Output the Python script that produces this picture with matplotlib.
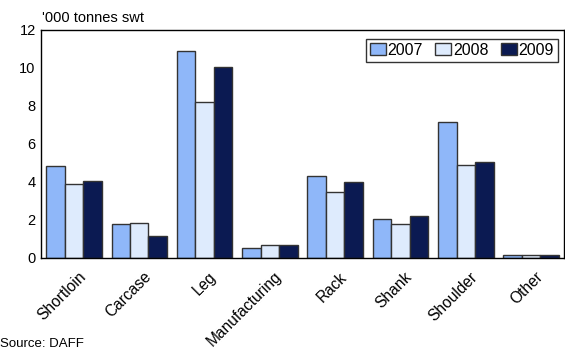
import numpy as np
import matplotlib.pyplot as plt
import matplotlib.transforms as mtransforms

plt.rcParams['font.family'] = ['Liberation Sans', 'DejaVu Sans']

cuts = ['Shortloin', 'Carcase', 'Leg', 'Manufacturing', 'Rack', 'Shank', 'Shoulder', 'Other']
y2007 = [4.85, 1.8, 10.9, 0.5, 4.3, 2.05, 7.15, 0.15]
y2008 = [3.9, 1.85, 8.2, 0.7, 3.45, 1.8, 4.9, 0.15]
y2009 = [4.05, 1.15, 10.05, 0.7, 4.0, 2.2, 5.05, 0.15]
years = ['2007', '2008', '2009']
colors = ['#8fb7f9', '#deebfd', '#0b1a52']

fig = plt.figure(figsize=(5.65, 3.51), dpi=100)
ax = fig.add_axes([0.073, 0.265, 0.925, 0.65])

x = np.arange(len(cuts))
w = 0.283
for i, (vals, c, lab) in enumerate(zip([y2007, y2008, y2009], colors, years)):
    ax.bar(x + (i - 1) * w, vals, w, color=c, edgecolor='#333333', linewidth=1.0, label=lab)

ax.set_xlim(-0.5, 7.5)
ax.set_ylim(0, 12)
ax.set_yticks(range(0, 13, 2))
ax.set_xticks(x)
ax.set_xticklabels(cuts, rotation=45, ha='right', rotation_mode='anchor')
ax.tick_params(length=0, labelsize=10.5, pad=4)
ax.tick_params(axis='x', pad=8, labelsize=11.2)
# nudge the rotated labels a little to the right
offset = mtransforms.ScaledTranslation(0.04, 0, fig.dpi_scale_trans)
for lbl in ax.get_xticklabels():
    lbl.set_transform(lbl.get_transform() + offset)
for s in ax.spines.values():
    s.set_linewidth(1.0)
    s.set_color('black')

fig.text(0.075, 0.93, "'000 tonnes swt", fontsize=10.5, ha='left', va='bottom')
fig.text(0.0, 0.003, 'Source: DAFF', fontsize=9.5, ha='left', va='bottom')

leg = ax.legend(loc='upper right', bbox_to_anchor=(0.995, 0.975), ncol=3, fontsize=11.5,
                frameon=True, fancybox=False, edgecolor='black', handlelength=1.0,
                handleheight=0.8, handletextpad=0.1, columnspacing=0.8,
                borderpad=0.25, borderaxespad=0.2)
leg.get_frame().set_linewidth(1.0)

fig.savefig('out.png', dpi=100)
